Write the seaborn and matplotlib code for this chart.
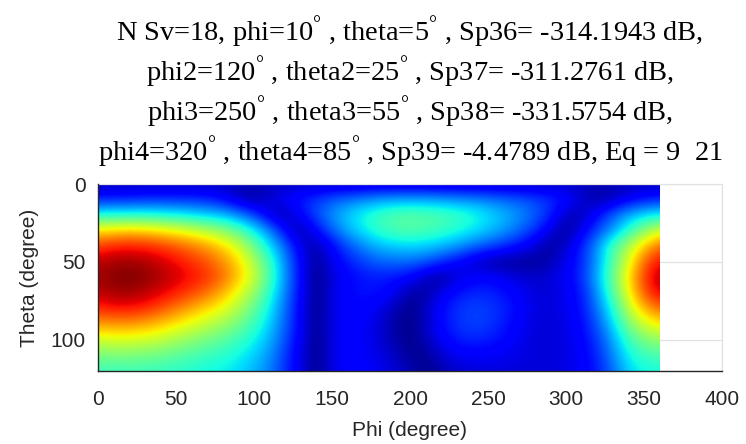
import numpy as np
import matplotlib
matplotlib.use("Agg")
import matplotlib.pyplot as plt
from matplotlib.patches import Rectangle
import seaborn as sns

# ---- data (normalised pattern, 0 = dark blue, 1 = dark red)
phi_deg = list(range(0, 361, 10))          # 37 columns
theta_deg = list(range(0, 121, 10))        # 13 rows

#        phi: 0     10    20    30    40    50    60    70    80    90    100   110   120   130   140   150   160   170   180   190   200   210   220   230   240   250   260   270   280   290   300   310   320   330   340   350   360
t000 = [0.05] * 37
t010 = [0.14, 0.15, 0.15, 0.16, 0.16, 0.16, 0.16, 0.15, 0.12, 0.06, 0.03, 0.08, 0.12, 0.15, 0.18, 0.21, 0.23, 0.25, 0.27, 0.28, 0.28, 0.28, 0.27, 0.26, 0.25, 0.24, 0.22, 0.21, 0.19, 0.17, 0.14, 0.08, 0.03, 0.05, 0.10, 0.13, 0.15]
t020 = [0.38, 0.38, 0.38, 0.38, 0.37, 0.36, 0.34, 0.32, 0.30, 0.25, 0.18, 0.08, 0.04, 0.13, 0.20, 0.27, 0.33, 0.38, 0.42, 0.45, 0.46, 0.45, 0.44, 0.42, 0.39, 0.35, 0.31, 0.27, 0.22, 0.16, 0.06, 0.05, 0.13, 0.22, 0.29, 0.34, 0.36]
t030 = [0.66, 0.68, 0.69, 0.68, 0.66, 0.63, 0.60, 0.56, 0.52, 0.45, 0.36, 0.25, 0.12, 0.03, 0.13, 0.22, 0.30, 0.36, 0.41, 0.44, 0.45, 0.44, 0.42, 0.39, 0.36, 0.32, 0.28, 0.23, 0.17, 0.09, 0.02, 0.10, 0.19, 0.27, 0.40, 0.51, 0.60]
t040 = [0.85, 0.87, 0.88, 0.87, 0.85, 0.82, 0.78, 0.74, 0.68, 0.60, 0.48, 0.35, 0.22, 0.09, 0.04, 0.12, 0.20, 0.26, 0.31, 0.33, 0.34, 0.33, 0.31, 0.28, 0.24, 0.20, 0.17, 0.13, 0.08, 0.02, 0.07, 0.16, 0.27, 0.44, 0.56, 0.70, 0.80]
t050 = [0.94, 0.97, 0.97, 0.96, 0.93, 0.90, 0.86, 0.82, 0.76, 0.68, 0.56, 0.42, 0.26, 0.12, 0.02, 0.10, 0.15, 0.19, 0.22, 0.23, 0.23, 0.21, 0.17, 0.12, 0.07, 0.04, 0.02, 0.02, 0.02, 0.05, 0.10, 0.16, 0.28, 0.45, 0.62, 0.80, 0.90]
t060 = [0.97, 0.99, 1.00, 0.99, 0.96, 0.93, 0.90, 0.86, 0.80, 0.70, 0.60, 0.44, 0.27, 0.12, 0.01, 0.08, 0.12, 0.14, 0.15, 0.14, 0.12, 0.06, 0.02, 0.08, 0.11, 0.12, 0.10, 0.08, 0.07, 0.08, 0.11, 0.17, 0.30, 0.48, 0.67, 0.85, 0.96]
t070 = [0.94, 0.97, 0.97, 0.95, 0.92, 0.88, 0.84, 0.79, 0.72, 0.63, 0.53, 0.40, 0.25, 0.12, 0.01, 0.09, 0.13, 0.14, 0.14, 0.10, 0.04, 0.03, 0.10, 0.14, 0.16, 0.16, 0.14, 0.11, 0.08, 0.08, 0.10, 0.15, 0.27, 0.45, 0.64, 0.82, 0.92]
t080 = [0.87, 0.89, 0.89, 0.87, 0.83, 0.78, 0.73, 0.68, 0.63, 0.56, 0.47, 0.36, 0.23, 0.11, 0.01, 0.09, 0.12, 0.12, 0.10, 0.05, 0.01, 0.06, 0.13, 0.17, 0.19, 0.18, 0.16, 0.12, 0.09, 0.08, 0.10, 0.14, 0.24, 0.39, 0.58, 0.72, 0.80]
t090 = [0.74, 0.75, 0.75, 0.73, 0.70, 0.66, 0.62, 0.58, 0.54, 0.49, 0.42, 0.33, 0.22, 0.11, 0.01, 0.09, 0.12, 0.11, 0.08, 0.03, 0.01, 0.06, 0.13, 0.17, 0.19, 0.18, 0.15, 0.11, 0.08, 0.08, 0.09, 0.13, 0.21, 0.34, 0.50, 0.60, 0.66]
t100 = [0.60, 0.61, 0.61, 0.60, 0.58, 0.55, 0.52, 0.49, 0.46, 0.42, 0.37, 0.30, 0.20, 0.10, 0.01, 0.09, 0.12, 0.11, 0.08, 0.04, 0.01, 0.05, 0.11, 0.15, 0.16, 0.15, 0.13, 0.10, 0.08, 0.08, 0.09, 0.12, 0.18, 0.29, 0.42, 0.50, 0.53]
t110 = [0.49, 0.50, 0.50, 0.49, 0.48, 0.46, 0.44, 0.42, 0.40, 0.37, 0.33, 0.27, 0.18, 0.09, 0.01, 0.09, 0.12, 0.11, 0.09, 0.06, 0.02, 0.02, 0.07, 0.10, 0.11, 0.11, 0.10, 0.09, 0.08, 0.08, 0.09, 0.11, 0.16, 0.26, 0.37, 0.42, 0.44]
t120 = [0.42, 0.42, 0.42, 0.42, 0.41, 0.40, 0.39, 0.37, 0.36, 0.34, 0.30, 0.25, 0.17, 0.09, 0.01, 0.09, 0.12, 0.12, 0.10, 0.08, 0.05, 0.01, 0.04, 0.07, 0.08, 0.08, 0.08, 0.08, 0.08, 0.08, 0.09, 0.11, 0.15, 0.23, 0.33, 0.37, 0.38]

x_ticks = [0, 50, 100, 150, 200, 250, 300, 350, 400]
y_ticks = [0, 50, 100]

title_lines = [
    r"N Sv=18, phi=10$^{\mathrm{°}}$ , theta=5$^{\mathrm{°}}$ , Sp36= -314.1943 dB,",
    r"phi2=120$^{\mathrm{°}}$ , theta2=25$^{\mathrm{°}}$ , Sp37= -311.2761 dB,",
    r"phi3=250$^{\mathrm{°}}$ , theta3=55$^{\mathrm{°}}$ , Sp38= -331.5754 dB,",
    r"phi4=320$^{\mathrm{°}}$ , theta4=85$^{\mathrm{°}}$ , Sp39= -4.4789 dB, Eq = 9  21",
]
x_label = "Phi (degree)"
y_label = "Theta (degree)"

# ---- styling
sns.set_style("white")
plt.rcParams["font.family"] = ["Liberation Sans", "DejaVu Sans"]
plt.rcParams["mathtext.fontset"] = "custom"
plt.rcParams["mathtext.rm"] = "Liberation Serif"
plt.rcParams["mathtext.it"] = "Liberation Serif:italic"

W, H = 746, 444
fig = plt.figure(figsize=(W / 100, H / 100), dpi=100)
left_px, right_px, top_px, bottom_px = 98, 722, 184, 371
ax = fig.add_axes([left_px / W, 1 - bottom_px / H,
                   (right_px - left_px) / W, (bottom_px - top_px) / H])

rows = [t000, t010, t020, t030, t040, t050, t060, t070, t080, t090, t100, t110, t120]
Z = np.array(rows)  # rows = theta, cols = phi

cmap = matplotlib.colormaps["jet"]
dphi = phi_deg[1] - phi_deg[0]
dth = theta_deg[1] - theta_deg[0]
im = ax.imshow(Z, cmap=cmap, vmin=0, vmax=1, aspect="auto", origin="upper",
               interpolation="bicubic",
               extent=[phi_deg[0] - dphi / 2, phi_deg[-1] + dphi / 2,
                       theta_deg[-1] + dth / 2, theta_deg[0] - dth / 2],
               zorder=1)
clip = Rectangle((phi_deg[0], theta_deg[0]), phi_deg[-1] - phi_deg[0],
                 theta_deg[-1] - theta_deg[0], transform=ax.transData)
im.set_clip_path(clip)

ax.set_xlim(0, 400)
ax.set_ylim(120, 0)
ax.set_xticks(x_ticks)
ax.set_yticks(y_ticks)
ax.set_axisbelow(True)
ax.grid(True, color="#e2e2e2", lw=0.9)

tick_color = "#262626"
ax.tick_params(axis="both", direction="in", length=5, width=0.8,
               colors=tick_color, labelsize=15)
ax.tick_params(axis="x", pad=14)
ax.tick_params(axis="y", pad=9)
for s in ["left", "bottom"]:
    ax.spines[s].set_color(tick_color)
    ax.spines[s].set_linewidth(1.0)
    ax.spines[s].set_zorder(3)
for s in ["top", "right"]:
    ax.spines[s].set_color("#e2e2e2")
    ax.spines[s].set_linewidth(0.9)

ax.set_xlabel(x_label, fontsize=15, color=tick_color, labelpad=8)
ax.set_ylabel(y_label, fontsize=15, color=tick_color, labelpad=8)

cx = (left_px + right_px) / 2 / W
baselines = [41, 81, 121, 161]
for line, b in zip(title_lines, baselines):
    fig.text(cx, 1 - b / H, line, ha="center", va="baseline",
             fontsize=20.4, family="Liberation Serif", color="black")

fig.savefig("out.png", dpi=100)
